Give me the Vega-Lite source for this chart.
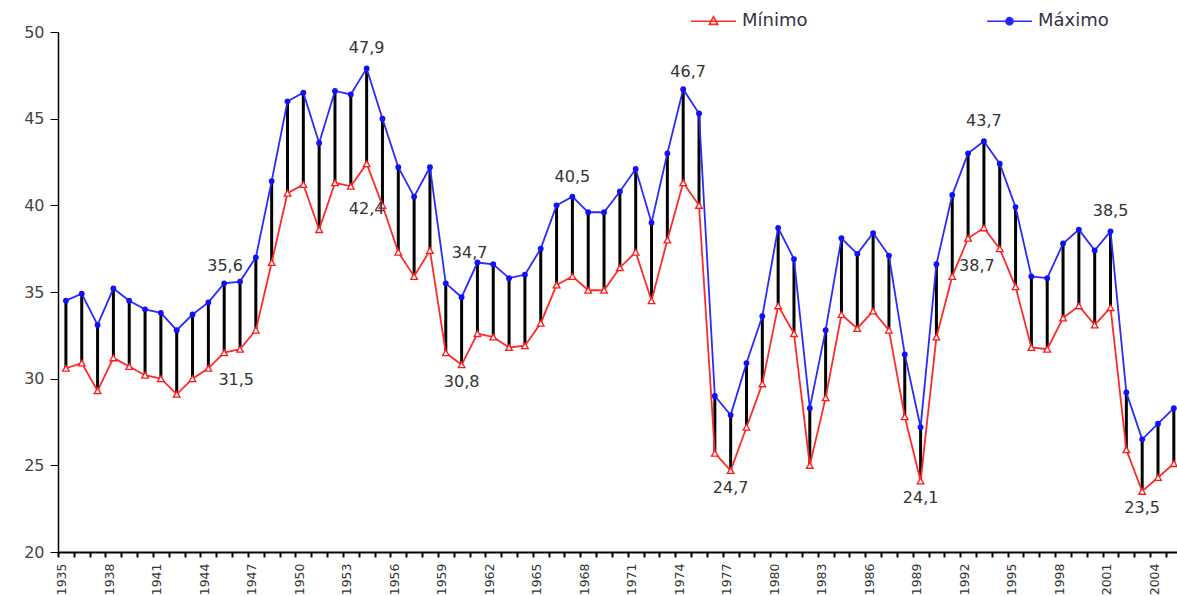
{
  "$schema": "https://vega.github.io/schema/vega-lite/v6.json",
  "autosize": {"type": "none"},
  "width": 1119,
  "height": 520,
  "padding": {"left": 58, "top": 32, "right": 0, "bottom": 44},
  "background": "white",
  "config": {
    "view": {"stroke": null},
    "locale": {"number": {"decimal": ",", "thousands": ".", "grouping": [3], "currency": ["", " €"]}},
    "axis": {"grid": false, "domainColor": "#000000", "tickColor": "#000000", "labelFont": "DejaVu Sans", "labelColor": "#444444", "title": null}
  },
  "data": {"values": [
    {"year": 1935, "Máximo": 34.5, "Mínimo": 30.6},
    {"year": 1936, "Máximo": 34.9, "Mínimo": 30.9},
    {"year": 1937, "Máximo": 33.1, "Mínimo": 29.3},
    {"year": 1938, "Máximo": 35.2, "Mínimo": 31.2},
    {"year": 1939, "Máximo": 34.5, "Mínimo": 30.7},
    {"year": 1940, "Máximo": 34.0, "Mínimo": 30.2},
    {"year": 1941, "Máximo": 33.8, "Mínimo": 30.0},
    {"year": 1942, "Máximo": 32.8, "Mínimo": 29.1},
    {"year": 1943, "Máximo": 33.7, "Mínimo": 30.0},
    {"year": 1944, "Máximo": 34.4, "Mínimo": 30.6},
    {"year": 1945, "Máximo": 35.5, "Mínimo": 31.5},
    {"year": 1946, "Máximo": 35.6, "Mínimo": 31.7},
    {"year": 1947, "Máximo": 37.0, "Mínimo": 32.8},
    {"year": 1948, "Máximo": 41.4, "Mínimo": 36.7},
    {"year": 1949, "Máximo": 46.0, "Mínimo": 40.7},
    {"year": 1950, "Máximo": 46.5, "Mínimo": 41.2},
    {"year": 1951, "Máximo": 43.6, "Mínimo": 38.6},
    {"year": 1952, "Máximo": 46.6, "Mínimo": 41.3},
    {"year": 1953, "Máximo": 46.4, "Mínimo": 41.1},
    {"year": 1954, "Máximo": 47.9, "Mínimo": 42.4},
    {"year": 1955, "Máximo": 45.0, "Mínimo": 40.0},
    {"year": 1956, "Máximo": 42.2, "Mínimo": 37.3},
    {"year": 1957, "Máximo": 40.5, "Mínimo": 35.9},
    {"year": 1958, "Máximo": 42.2, "Mínimo": 37.4},
    {"year": 1959, "Máximo": 35.5, "Mínimo": 31.5},
    {"year": 1960, "Máximo": 34.7, "Mínimo": 30.8},
    {"year": 1961, "Máximo": 36.7, "Mínimo": 32.6},
    {"year": 1962, "Máximo": 36.6, "Mínimo": 32.4},
    {"year": 1963, "Máximo": 35.8, "Mínimo": 31.8},
    {"year": 1964, "Máximo": 36.0, "Mínimo": 31.9},
    {"year": 1965, "Máximo": 37.5, "Mínimo": 33.2},
    {"year": 1966, "Máximo": 40.0, "Mínimo": 35.4},
    {"year": 1967, "Máximo": 40.5, "Mínimo": 35.9},
    {"year": 1968, "Máximo": 39.6, "Mínimo": 35.1},
    {"year": 1969, "Máximo": 39.6, "Mínimo": 35.1},
    {"year": 1970, "Máximo": 40.8, "Mínimo": 36.4},
    {"year": 1971, "Máximo": 42.1, "Mínimo": 37.3},
    {"year": 1972, "Máximo": 39.0, "Mínimo": 34.5},
    {"year": 1973, "Máximo": 43.0, "Mínimo": 38.0},
    {"year": 1974, "Máximo": 46.7, "Mínimo": 41.3},
    {"year": 1975, "Máximo": 45.3, "Mínimo": 40.0},
    {"year": 1976, "Máximo": 29.0, "Mínimo": 25.7},
    {"year": 1977, "Máximo": 27.9, "Mínimo": 24.7},
    {"year": 1978, "Máximo": 30.9, "Mínimo": 27.2},
    {"year": 1979, "Máximo": 33.6, "Mínimo": 29.7},
    {"year": 1980, "Máximo": 38.7, "Mínimo": 34.2},
    {"year": 1981, "Máximo": 36.9, "Mínimo": 32.6},
    {"year": 1982, "Máximo": 28.3, "Mínimo": 25.0},
    {"year": 1983, "Máximo": 32.8, "Mínimo": 28.9},
    {"year": 1984, "Máximo": 38.1, "Mínimo": 33.7},
    {"year": 1985, "Máximo": 37.2, "Mínimo": 32.9},
    {"year": 1986, "Máximo": 38.4, "Mínimo": 33.9},
    {"year": 1987, "Máximo": 37.1, "Mínimo": 32.8},
    {"year": 1988, "Máximo": 31.4, "Mínimo": 27.8},
    {"year": 1989, "Máximo": 27.2, "Mínimo": 24.1},
    {"year": 1990, "Máximo": 36.6, "Mínimo": 32.4},
    {"year": 1991, "Máximo": 40.6, "Mínimo": 35.9},
    {"year": 1992, "Máximo": 43.0, "Mínimo": 38.1},
    {"year": 1993, "Máximo": 43.7, "Mínimo": 38.7},
    {"year": 1994, "Máximo": 42.4, "Mínimo": 37.5},
    {"year": 1995, "Máximo": 39.9, "Mínimo": 35.3},
    {"year": 1996, "Máximo": 35.9, "Mínimo": 31.8},
    {"year": 1997, "Máximo": 35.8, "Mínimo": 31.7},
    {"year": 1998, "Máximo": 37.8, "Mínimo": 33.5},
    {"year": 1999, "Máximo": 38.6, "Mínimo": 34.2},
    {"year": 2000, "Máximo": 37.4, "Mínimo": 33.1},
    {"year": 2001, "Máximo": 38.5, "Mínimo": 34.1},
    {"year": 2002, "Máximo": 29.2, "Mínimo": 25.9},
    {"year": 2003, "Máximo": 26.5, "Mínimo": 23.5},
    {"year": 2004, "Máximo": 27.4, "Mínimo": 24.3},
    {"year": 2005, "Máximo": 28.3, "Mínimo": 25.1}
  ]},
  "encoding": {
    "x": {
      "field": "year", "type": "quantitative",
      "scale": {"domain": [1934.5, 2005.2], "nice": false, "zero": false},
      "axis": {
        "values": [1935,1936,1937,1938,1939,1940,1941,1942,1943,1944,1945,1946,1947,1948,1949,1950,1951,1952,1953,1954,1955,1956,1957,1958,1959,1960,1961,1962,1963,1964,1965,1966,1967,1968,1969,1970,1971,1972,1973,1974,1975,1976,1977,1978,1979,1980,1981,1982,1983,1984,1985,1986,1987,1988,1989,1990,1991,1992,1993,1994,1995,1996,1997,1998,1999,2000,2001,2002,2003,2004,2005],
        "format": "d",
        "labelExpr": "(datum.value - 1935) % 3 == 0 ? datum.label : ''",
        "labelOverlap": false,
        "labelAngle": 270,
        "labelAlign": "right",
        "labelBaseline": "middle",
        "labelFontSize": 12.5,
        "labelColor": "#333333",
        "labelPadding": 6,
        "tickOffset": -7.9,
        "labelOffset": 3.9,
        "tickSize": 5,
        "tickWidth": 2,
        "domainWidth": 2,
        "labelBound": false,
        "labelFlush": false
      }
    }
  },
  "layer": [
    {
      "mark": {"type": "rule", "color": "#000000", "strokeWidth": 3},
      "encoding": {
        "y": {
          "field": "Mínimo", "type": "quantitative",
          "scale": {"domain": [20, 50], "nice": false, "zero": false},
          "axis": {
            "values": [20, 25, 30, 35, 40, 45, 50],
            "labelFontSize": 16,
            "labelPadding": 6,
            "tickSize": 8,
            "tickWidth": 1,
            "domainWidth": 1.5,
            "labelFlush": false
          }
        },
        "y2": {"field": "Máximo"}
      }
    },
    {
      "transform": [{"fold": ["Mínimo", "Máximo"], "as": ["serie", "valor"]}],
      "mark": {"type": "line", "strokeWidth": 1.8},
      "encoding": {
        "y": {"field": "valor", "type": "quantitative"},
        "color": {
          "field": "serie", "type": "nominal",
          "scale": {"domain": ["Mínimo", "Máximo"], "range": ["#ff2a2a", "#2a2aff"]},
          "legend": {
            "title": null,
            "orient": "none",
            "direction": "horizontal",
            "legendX": 632,
            "legendY": -34.5,
            "padding": 0,
            "symbolSize": 2025,
            "labelOffset": 5,
            "columnPadding": 175,
            "labelFont": "DejaVu Sans",
            "labelFontSize": 18,
            "labelColor": "#333344",
            "encode": {
              "symbols": {
                "update": {
                  "shape": {"signal": "datum.value === 'Mínimo' ? 'M-1,0H1M0,-0.2L0.19,0.14L-0.19,0.14Z' : 'M-1,0H1M-0.16,0A0.16,0.16 0 1,1 0.16,0A0.16,0.16 0 1,1 -0.16,0Z'"},
                  "fill": {"signal": "datum.value === 'Mínimo' ? '#ffffff' : '#1a1aff'"},
                  "stroke": {"signal": "datum.value === 'Mínimo' ? '#ff1a1a' : '#1a1aff'"},
                  "strokeWidth": {"value": 1.6},
                  "opacity": {"value": 1}
                }
              }
            }
          }
        }
      }
    },
    {
      "mark": {"type": "point", "shape": "triangle-up", "size": 45, "filled": false, "fill": "#ffffff", "stroke": "#ff1a1a", "strokeWidth": 1.3, "opacity": 1},
      "encoding": {"y": {"field": "Mínimo", "type": "quantitative"}}
    },
    {
      "mark": {"type": "point", "shape": "circle", "size": 34, "filled": true, "color": "#1010ff", "opacity": 1},
      "encoding": {"y": {"field": "Máximo", "type": "quantitative"}}
    },
    {
      "transform": [{"filter": "indexof([1954, 1967, 1993, 2001], datum.year) >= 0"}],
      "mark": {"type": "text", "font": "DejaVu Sans", "fontSize": 16, "color": "#333333", "dy": -20},
      "encoding": {"y": {"field": "Máximo", "type": "quantitative"}, "text": {"field": "Máximo", "type": "quantitative", "format": ".1f"}}
    },
    {
      "transform": [{"filter": "datum.year == 1974"}],
      "mark": {"type": "text", "font": "DejaVu Sans", "fontSize": 16, "color": "#333333", "dx": 5, "dy": -17},
      "encoding": {"y": {"field": "Máximo", "type": "quantitative"}, "text": {"field": "Máximo", "type": "quantitative", "format": ".1f"}}
    },
    {
      "transform": [{"filter": "datum.year == 1946"}],
      "mark": {"type": "text", "font": "DejaVu Sans", "fontSize": 16, "color": "#333333", "dx": -15, "dy": -16},
      "encoding": {"y": {"field": "Máximo", "type": "quantitative"}, "text": {"field": "Máximo", "type": "quantitative", "format": ".1f"}}
    },
    {
      "transform": [{"filter": "datum.year == 1960"}],
      "mark": {"type": "text", "font": "DejaVu Sans", "fontSize": 16, "color": "#333333", "dx": 8, "dy": -44},
      "encoding": {"y": {"field": "Máximo", "type": "quantitative"}, "text": {"field": "Máximo", "type": "quantitative", "format": ".1f"}}
    },
    {
      "transform": [{"filter": "indexof([1960, 1977, 1989, 2003], datum.year) >= 0"}],
      "mark": {"type": "text", "font": "DejaVu Sans", "fontSize": 16, "color": "#333333", "dy": 17},
      "encoding": {"y": {"field": "Mínimo", "type": "quantitative"}, "text": {"field": "Mínimo", "type": "quantitative", "format": ".1f"}}
    },
    {
      "transform": [{"filter": "datum.year == 1945"}],
      "mark": {"type": "text", "font": "DejaVu Sans", "fontSize": 16, "color": "#333333", "dx": 12, "dy": 27},
      "encoding": {"y": {"field": "Mínimo", "type": "quantitative"}, "text": {"field": "Mínimo", "type": "quantitative", "format": ".1f"}}
    },
    {
      "transform": [{"filter": "datum.year == 1954"}],
      "mark": {"type": "text", "font": "DejaVu Sans", "fontSize": 16, "color": "#333333", "dy": 45},
      "encoding": {"y": {"field": "Mínimo", "type": "quantitative"}, "text": {"field": "Mínimo", "type": "quantitative", "format": ".1f"}}
    },
    {
      "transform": [{"filter": "datum.year == 1993"}],
      "mark": {"type": "text", "font": "DejaVu Sans", "fontSize": 16, "color": "#333333", "dx": -7, "dy": 38},
      "encoding": {"y": {"field": "Mínimo", "type": "quantitative"}, "text": {"field": "Mínimo", "type": "quantitative", "format": ".1f"}}
    }
  ]
}
